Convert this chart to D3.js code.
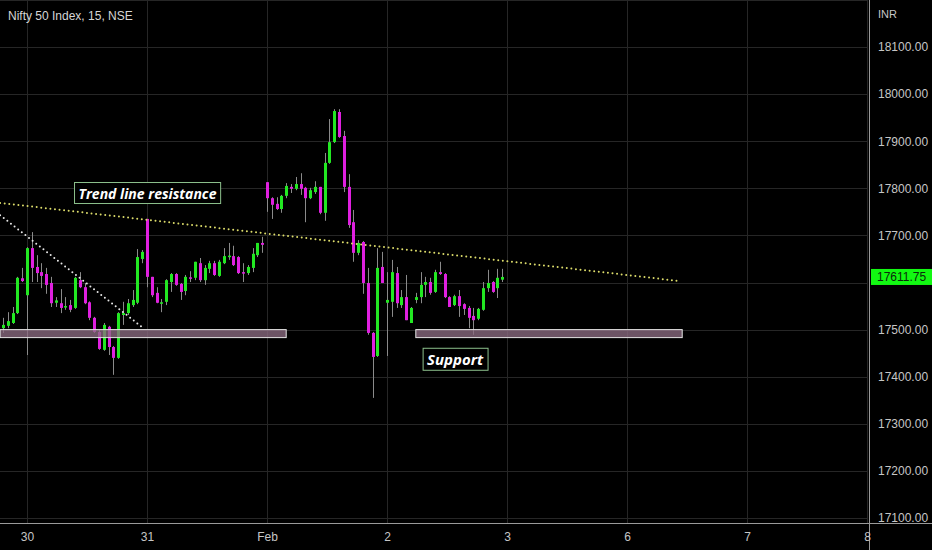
<!DOCTYPE html>
<html>
<head>
<meta charset="utf-8">
<style>
html,body{margin:0;padding:0;background:#000;overflow:hidden;}
svg{display:block;}
.axis text{font-family:"Liberation Sans Narrow","Liberation Sans",sans-serif;font-size:12px;fill:#c6c6c6;}
.note{font-family:"Open Sans","Noto Sans",sans-serif;font-weight:bold;font-style:italic;fill:#fff;}
</style>
</head>
<body>
<div id="chart"></div>
<script src="https://cdn.jsdelivr.net/npm/d3@7"></script>
<script>
// 15 min candles, Jan 27 (tail) .. Feb 2; index 0 = first candle shown
const opens = [17503,17508,17514,17535,17609,17573,17673,17633,17622,17618,
  17599,17557,17556,17548,17552,17546,17605,17590,17558,17525,
  17495,17457,17506,17463,17440,17531,17535,17552,17557,17650,
  17735,17612,17578,17557,17559,17601,17618,17597,17582,17611,
  17610,17641,17605,17629,17641,17614,17641,17656,17656,17654,
  17622,17620,17631,17658,17684,17813,17779,17767,17756,17784,
  17803,17799,17809,17801,17779,17792,17803,17748,17854,17898,
  17962,17911,17803,17728,17663,17686,17599,17493,17444,17633,
  17557,17559,17620,17552,17569,17514,17563,17569,17595,17601,
  17580,17622,17618,17569,17552,17571,17554,17546,17529,17523,
  17542,17588,17601,17588,17606];
const highs = [17525,17537,17548,17612,17631,17675,17707,17658,17641,17631,
  17612,17569,17586,17569,17563,17612,17622,17599,17560,17527,
  17499,17514,17508,17465,17537,17559,17565,17584,17671,17669,
  17735,17612,17590,17565,17607,17620,17620,17599,17616,17624,
  17644,17652,17637,17646,17646,17648,17673,17684,17678,17656,
  17641,17637,17673,17684,17697,17813,17781,17781,17786,17811,
  17809,17824,17832,17803,17801,17815,17803,17875,17947,17968,
  17968,17922,17830,17754,17690,17688,17631,17495,17673,17665,
  17622,17648,17633,17584,17616,17548,17578,17622,17612,17610,
  17627,17644,17620,17571,17574,17584,17556,17550,17546,17546,
  17601,17627,17603,17629,17629];
const lows = [17493,17503,17512,17533,17601,17446,17601,17601,17588,17576,
  17548,17548,17535,17542,17537,17544,17588,17554,17520,17493,
  17457,17455,17446,17404,17438,17510,17531,17548,17554,17641,
  17590,17569,17556,17537,17552,17580,17593,17563,17573,17601,
  17605,17601,17595,17620,17614,17612,17639,17648,17635,17618,
  17601,17616,17622,17654,17663,17750,17735,17754,17748,17779,
  17790,17796,17786,17728,17777,17788,17745,17731,17852,17896,
  17907,17792,17716,17644,17658,17576,17489,17355,17442,17599,
  17444,17527,17546,17546,17520,17514,17556,17556,17569,17574,
  17578,17616,17567,17548,17550,17527,17531,17503,17489,17520,
  17540,17580,17578,17567,17601];
const closes = [17510,17518,17535,17610,17603,17673,17631,17620,17614,17595,
  17556,17562,17546,17550,17542,17610,17590,17556,17525,17495,
  17459,17510,17463,17440,17535,17535,17556,17563,17654,17665,
  17612,17573,17557,17558,17605,17618,17595,17580,17612,17610,
  17644,17605,17631,17641,17616,17644,17656,17657,17637,17620,
  17620,17633,17661,17684,17680,17779,17765,17756,17784,17805,
  17799,17809,17799,17779,17796,17803,17748,17854,17898,17964,
  17909,17803,17722,17663,17684,17599,17493,17442,17631,17599,
  17563,17622,17556,17569,17520,17546,17569,17595,17601,17578,
  17622,17618,17569,17548,17571,17550,17544,17525,17520,17544,
  17588,17599,17580,17610,17611.75];

const dayIdx = [5, 30, 55, 80, 105, 130, 155, 180];
const dayLabels = ["30", "31", "Feb", "2", "3", "6", "7", "8"];
const priceTicks = d3.range(17100, 18101, 100);
const gridPrices = d3.range(17100, 18201, 100);
const lastPrice = 17611.75;

// drawings
const resistIdx = [-0.6, 141], resistPx = [17769, 17603];
const fallIdx = [-0.6, 29], fallPx = [17743, 17505];
const zoneTop = 17500, zoneBottom = 17483;
const zones = [[-0.6, 59], [86, 141.5]];
const notes = [
  {text: "Trend line resistance", idx: 30.1, px: 17790, size: 14},
  {text: "Support", idx: 94.2, px: 17437, size: 15}
];

const W = 932, H = 550, plotR = 868, plotB = 523;
const svg = d3.select("#chart").append("svg").attr("width", W).attr("height", H);
svg.append("rect").attr("width", W).attr("height", H).attr("fill", "#000");

const x = d3.scaleLinear().domain([-0.625, 180.208]).range([0, plotR]);
const y = d3.scaleLinear().domain([17100, 18100]).range([518, 47]);

// grid
const grid = svg.append("g").attr("shape-rendering", "crispEdges");
grid.selectAll(".hg").data(gridPrices).enter().append("line")
  .attr("x1", 0).attr("x2", plotR)
  .attr("y1", d => Math.round(y(d)) + 0.5).attr("y2", d => Math.round(y(d)) + 0.5)
  .attr("stroke", "#262626");
grid.selectAll(".vg").data(dayIdx).enter().append("line")
  .attr("y1", 0).attr("y2", plotB)
  .attr("x1", d => Math.round(x(d)) + 0.5).attr("x2", d => Math.round(x(d)) + 0.5)
  .attr("stroke", "#262626");

const idx = d3.range(opens.length);

// wicks
svg.append("g").selectAll("line").data(idx).enter().append("line")
  .attr("x1", i => Math.round(x(i)) + 0.5).attr("x2", i => Math.round(x(i)) + 0.5)
  .attr("y1", i => y(highs[i])).attr("y2", i => y(lows[i]))
  .attr("stroke", "#8a8a8a").attr("stroke-width", 1);

// bodies
svg.append("g").selectAll("rect").data(idx).enter().append("rect")
  .attr("x", i => Math.round(x(i)) - 1)
  .attr("width", 3)
  .attr("y", i => y(Math.max(opens[i], closes[i])))
  .attr("height", i => Math.max(1.5, Math.abs(y(opens[i]) - y(closes[i]))))
  .attr("fill", i => closes[i] >= opens[i] ? "#22e822" : "#e020e0");

// support zones
svg.append("g").selectAll("rect").data(zones).enter().append("rect")
  .attr("x", d => x(d[0])).attr("width", d => x(d[1]) - x(d[0]))
  .attr("y", y(zoneTop)).attr("height", y(zoneBottom) - y(zoneTop))
  .attr("fill", "rgba(140,108,130,0.78)")
  .attr("stroke", "#e4e4e4").attr("stroke-width", 1);

// dotted trend lines
svg.append("line")
  .attr("x1", x(resistIdx[0])).attr("x2", x(resistIdx[1]))
  .attr("y1", y(resistPx[0])).attr("y2", y(resistPx[1]))
  .attr("stroke", "#dcdc6a").attr("stroke-width", 2)
  .attr("stroke-linecap", "round").attr("stroke-dasharray", "0,4.6");
svg.append("line")
  .attr("x1", x(fallIdx[0])).attr("x2", x(fallIdx[1]))
  .attr("y1", y(fallPx[0])).attr("y2", y(fallPx[1]))
  .attr("stroke", "#e6e6e6").attr("stroke-width", 2)
  .attr("stroke-linecap", "round").attr("stroke-dasharray", "0,4.6");

// text notes with boxes
notes.forEach(n => {
  const g = svg.append("g");
  const t = g.append("text").attr("class", "note")
    .attr("x", x(n.idx)).attr("y", y(n.px))
    .attr("text-anchor", "middle").attr("dominant-baseline", "central")
    .style("font-size", n.size + "px").text(n.text);
  const b = t.node().getBBox();
  g.insert("rect", "text")
    .attr("x", b.x - 4).attr("y", b.y - 1)
    .attr("width", b.width + 8).attr("height", b.height + 2)
    .attr("fill", "#000").attr("stroke", "#8cc08c").attr("stroke-width", 1);
});

// axes frame
svg.append("line").attr("x1", 0).attr("x2", W).attr("y1", plotB + 0.5).attr("y2", plotB + 0.5)
  .attr("stroke", "#9a9a9a");
svg.append("line").attr("x1", plotR + 1.5).attr("x2", plotR + 1.5).attr("y1", 0).attr("y2", H)
  .attr("stroke", "#9a9a9a");

// price axis (label hidden behind the last price tag is dropped, as on the chart)
const yAxis = svg.append("g").attr("class", "axis")
  .attr("transform", `translate(${plotR + 2},0)`)
  .call(d3.axisRight(y).tickValues(priceTicks.filter(p => Math.abs(y(p) - y(lastPrice)) > 12))
    .tickFormat(d3.format(".2f")).tickSize(0).tickPadding(8));
yAxis.select(".domain").remove();

// time axis
const xAxis = svg.append("g").attr("class", "axis")
  .attr("transform", `translate(0,${plotB})`)
  .call(d3.axisBottom(x).tickValues(dayIdx).tickFormat((d, i) => dayLabels[i]).tickSize(0).tickPadding(9));
xAxis.select(".domain").remove();

svg.append("text").attr("x", 878).attr("y", 18)
  .style("font-family", "'Liberation Sans Narrow','Liberation Sans',sans-serif")
  .style("font-size", "11px").attr("fill", "#c6c6c6").text("INR");

// last price tag
const ly = y(lastPrice);
const tag = svg.append("g");
const tagText = tag.append("text").attr("x", plotR + 9).attr("y", ly).attr("dominant-baseline", "central")
  .style("font-family", "'Liberation Sans Narrow','Liberation Sans',sans-serif")
  .style("font-size", "12px").attr("fill", "#0b2a0b").text(d3.format(".2f")(lastPrice));
const tb = tagText.node().getBBox();
tag.insert("rect", "text").attr("x", plotR + 3).attr("y", ly - 8)
  .attr("width", Math.max(54, tb.width + 12)).attr("height", 16)
  .attr("fill", "#12f812");

// title
svg.append("text").attr("x", 8).attr("y", 20)
  .style("font-family", "'Liberation Sans Narrow','Liberation Sans',sans-serif")
  .style("font-size", "12px").attr("fill", "#d6d6d6").text("Nifty 50 Index, 15, NSE");
</script>
</body>
</html>
